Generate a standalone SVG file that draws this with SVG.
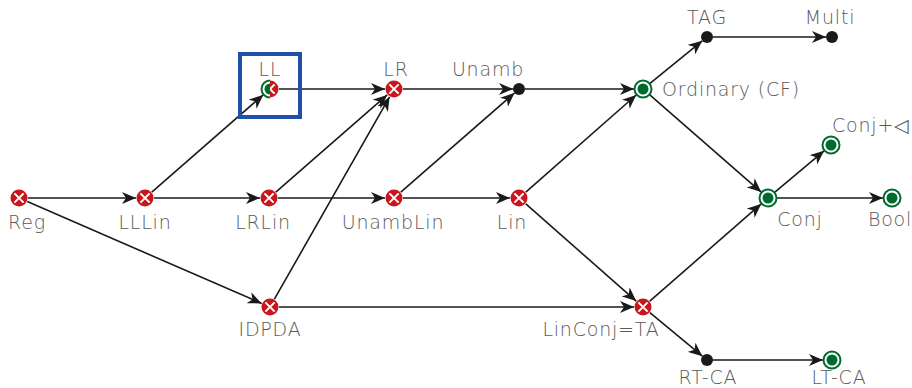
<svg xmlns="http://www.w3.org/2000/svg" width="912" height="388" viewBox="0 0 912 388">
<defs>
<marker id="ah" markerWidth="16" markerHeight="12" refX="14" refY="6" orient="auto" markerUnits="userSpaceOnUse">
<path d="M0,0 L14,6 L0,12 L4,6 z" fill="#1a1a1a"/>
</marker>
<symbol id="rx" overflow="visible">
<circle r="8.5" fill="#c8161d"/>
<path d="M-4.6,-4.6 L4.6,4.6 M-4.6,4.6 L4.6,-4.6" stroke="#fff" stroke-width="2"/>
</symbol>
<symbol id="gr" overflow="visible">
<circle r="8.5" fill="#fff" stroke="#006b2e" stroke-width="2"/>
<circle r="5.5" fill="#006b2e"/>
</symbol>
<clipPath id="lh"><rect x="-12" y="-12" width="12" height="24"/></clipPath>
<clipPath id="rh"><rect x="0" y="-12" width="12" height="24"/></clipPath>
</defs>
<style>
.e{stroke:#1a1a1a;stroke-width:1.6;fill:none;marker-end:url(#ah)}
text{font-family:"DejaVu Sans","Liberation Sans",sans-serif;font-size:19px;font-weight:300;letter-spacing:0.8px;fill:#5a5a5a}
.m{text-anchor:middle}
.b{fill:#1a1a1a}
</style>
<rect width="912" height="388" fill="#fff"/>
<g id="connectors">
<line class="e" x1="28" y1="198" x2="136" y2="198"/>
<line class="e" x1="27.3" y1="201.6" x2="261.7" y2="303.4"/>
<line class="e" x1="154" y1="198" x2="260" y2="198"/>
<line class="e" x1="151.8" y1="192.1" x2="263.2" y2="94.9"/>
<line class="e" x1="278" y1="198" x2="385" y2="198"/>
<line class="e" x1="275.8" y1="192.1" x2="387.2" y2="94.9"/>
<line class="e" x1="274.4" y1="299.2" x2="389.6" y2="96.8"/>
<line class="e" x1="279" y1="307" x2="634" y2="307"/>
<line class="e" x1="279" y1="89" x2="385" y2="89"/>
<line class="e" x1="403" y1="89" x2="513" y2="89"/>
<line class="e" x1="403" y1="198" x2="510" y2="198"/>
<line class="e" x1="400.8" y1="192.1" x2="514.5" y2="93"/>
<line class="e" x1="525" y1="89" x2="634" y2="89"/>
<line class="e" x1="525.8" y1="192.1" x2="636.2" y2="95"/>
<line class="e" x1="525.8" y1="203.9" x2="636.2" y2="301.1"/>
<line class="e" x1="650" y1="83.3" x2="702.3" y2="40.8"/>
<line class="e" x1="713" y1="37" x2="826" y2="37"/>
<line class="e" x1="649.8" y1="94.9" x2="761.2" y2="192.1"/>
<line class="e" x1="649.8" y1="301.1" x2="761.2" y2="203.9"/>
<line class="e" x1="649.9" y1="312.7" x2="702.4" y2="356.2"/>
<line class="e" x1="713" y1="360" x2="823" y2="360"/>
<line class="e" x1="774.9" y1="192.2" x2="824.1" y2="150.8"/>
<line class="e" x1="777" y1="198" x2="883" y2="198"/>
</g>
<g id="Reg"><use href="#rx" x="19" y="198"/><text x="27" y="229" class="m">Reg</text></g>
<g id="LLLin"><use href="#rx" x="145" y="198"/><text x="145" y="229" class="m">LLLin</text></g>
<g id="LRLin"><use href="#rx" x="269" y="198"/><text x="263" y="229" class="m">LRLin</text></g>
<g id="UnambLin"><use href="#rx" x="394" y="198"/><text x="393" y="229" class="m">UnambLin</text></g>
<g id="Lin"><use href="#rx" x="519" y="198"/><text x="512" y="229" class="m">Lin</text></g>
<g id="LL">
<rect x="240" y="54" width="60" height="63" fill="none" stroke="#1f4fa8" stroke-width="4"/>
<g transform="translate(270,89)">
<g clip-path="url(#lh)"><circle r="8.5" fill="#fff" stroke="#006b2e" stroke-width="2"/><circle r="5.5" fill="#006b2e"/></g>
<g clip-path="url(#rh)"><circle r="8.5" fill="#c8161d"/><path d="M-4.6,-4.6 L4.6,4.6 M-4.6,4.6 L4.6,-4.6" stroke="#fff" stroke-width="2"/></g>
</g>
<text x="270" y="76" class="m">LL</text>
</g>
<g id="LR"><use href="#rx" x="394" y="89"/><text x="396" y="76" class="m">LR</text></g>
<g id="Unamb"><circle cx="519" cy="89" r="6" class="b"/><text x="488" y="76" class="m">Unamb</text></g>
<g id="Ordinary"><use href="#gr" x="643" y="89"/><text x="662" y="96">Ordinary (CF)</text></g>
<g id="TAG"><circle cx="707" cy="37" r="6" class="b"/><text x="707" y="24" class="m">TAG</text></g>
<g id="Multi"><circle cx="832" cy="37" r="6" class="b"/><text x="830" y="24" class="m">Multi</text></g>
<g id="ConjShuffle"><use href="#gr" x="831" y="145"/><text x="832" y="132">Conj+◁</text></g>
<g id="Conj"><use href="#gr" x="768" y="198"/><text x="800" y="226" class="m">Conj</text></g>
<g id="Bool"><use href="#gr" x="892" y="198"/><text x="890" y="226" class="m">Bool</text></g>
<g id="IDPDA"><use href="#rx" x="270" y="307"/><text x="270" y="336" class="m">IDPDA</text></g>
<g id="LinConj"><use href="#rx" x="643" y="307"/><text x="601" y="336" class="m">LinConj=TA</text></g>
<g id="RT-CA"><circle cx="707" cy="360" r="6" class="b"/><text x="708" y="384" class="m">RT-CA</text></g>
<g id="LT-CA"><use href="#gr" x="832" y="360"/><text x="839" y="384" class="m">LT-CA</text></g>
</svg>
